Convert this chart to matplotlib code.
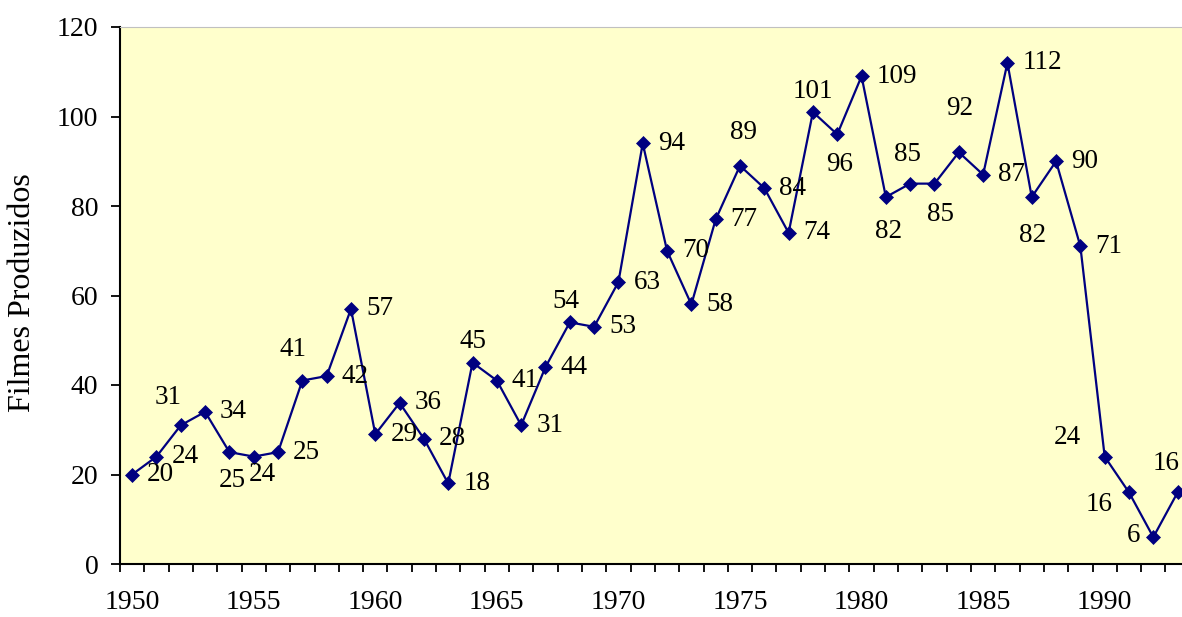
import numpy as np
import matplotlib.pyplot as plt

plt.rcParams['font.family'] = ['Liberation Serif', 'DejaVu Serif']

years = list(range(1950, 1994))
filmes = [20, 24, 31, 34, 25, 24, 25, 41, 42, 57,
          29, 36, 28, 18, 45, 41, 31, 44, 54, 53,
          63, 94, 70, 58, 77, 89, 84, 74, 101, 96,
          109, 82, 85, 85, 92, 87, 112, 82, 90, 71,
          24, 16, 6, 16]
year_ticks = [1950, 1955, 1960, 1965, 1970, 1975, 1980, 1985, 1990]
y_ticks = [0, 20, 40, 60, 80, 100, 120]

# label placement: by default to the right of the point;
# the rest are centred at a pixel offset (dx, dy up)
px = 0.72
moved = {
    1952: (-13, 28), 1954: (3, -28), 1955: (9, -18), 1957: (-9, 31),
    1964: (0, 21), 1968: (-4, 21), 1975: (4, 33), 1978: (0, 21),
    1979: (2, -30), 1981: (3, -34), 1982: (-3, 29), 1983: (6, -31),
    1984: (1, 44), 1987: (1, -38), 1990: (-37, 19), 1991: (-30, -12),
    1992: (-20, 2), 1993: (-12, 29),
}

fig = plt.figure(figsize=(11.82, 6.17), dpi=100)
ax = fig.add_axes([120 / 1182, 1 - 564 / 617, 1062 / 1182, 537 / 617])
ax.set_facecolor('#FFFFCC')

ax.plot(years, filmes, color='#000080', linewidth=1.6, marker='D',
        markersize=7, markeredgewidth=0.5, clip_on=False, zorder=3)

for yr, v in zip(years, filmes):
    if yr in moved:
        dx, dy = moved[yr]
        ax.annotate(str(v), (yr, v), xytext=(dx * px, dy * px),
                    textcoords='offset points', ha='center', va='center',
                    fontsize=19.5, annotation_clip=False)
    else:
        ax.annotate(str(v), (yr, v), xytext=(15 * px, 0),
                    textcoords='offset points', ha='left', va='center',
                    fontsize=19.5, annotation_clip=False)

ax.set_xlim(1949.5, 1993.18)
ax.set_ylim(0, 120)
ax.set_xticks(year_ticks)
ax.set_xticklabels([str(y) for y in year_ticks])
ax.set_xticks(np.arange(1949.5, 1993.5, 1), minor=True)
ax.tick_params(axis='x', which='major', length=0, pad=19, labelsize=20)
ax.tick_params(axis='x', which='minor', length=6, width=1.3, direction='out')
ax.set_yticks(y_ticks)
ax.tick_params(axis='y', length=6.5, width=1.3, pad=9, labelsize=20)

for side in ['left', 'bottom']:
    ax.spines[side].set_linewidth(1.5)
ax.spines['top'].set_color('#C0C0C0')
ax.spines['top'].set_linewidth(0.8)
ax.spines['right'].set_visible(False)

fig.text(23 / 1182, 1 - 293 / 617, 'Filmes Produzidos', rotation=90,
         ha='center', va='center', fontsize=23)

fig.savefig('out.png', dpi=100)
